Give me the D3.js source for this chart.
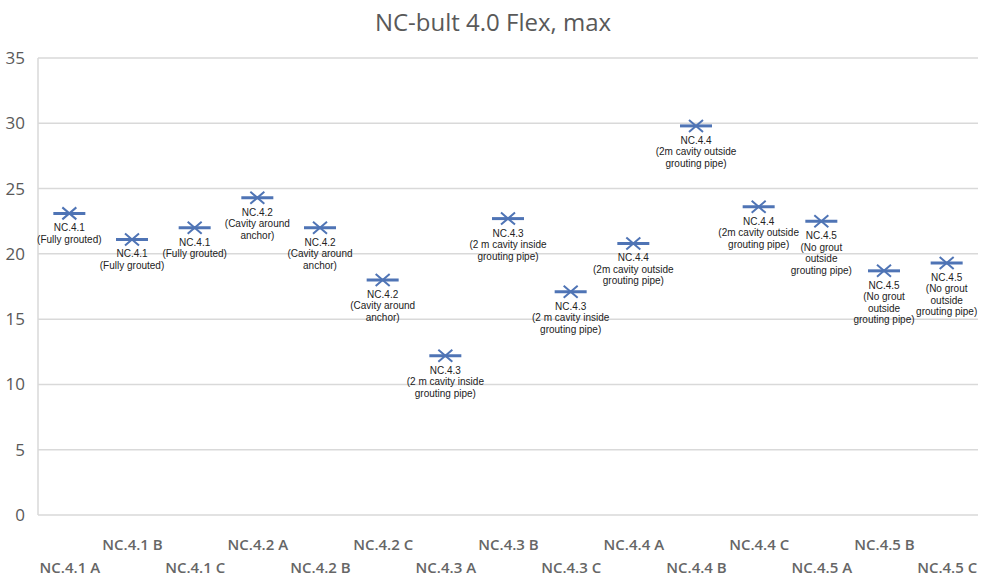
<!DOCTYPE html>
<html>
<head>
<meta charset="utf-8">
<script src="https://cdn.jsdelivr.net/npm/d3@7"></script>
<style>
  body { margin: 0; background: #fff; }
</style>
</head>
<body>
<script>
// categories along x
var categories = ["NC.4.1 A", "NC.4.1 B", "NC.4.1 C", "NC.4.2 A", "NC.4.2 B", "NC.4.2 C",
  "NC.4.3 A", "NC.4.3 B", "NC.4.3 C", "NC.4.4 A", "NC.4.4 B", "NC.4.4 C",
  "NC.4.5 A", "NC.4.5 B", "NC.4.5 C"];

// max flex values
var values = [23.1, 21.1, 22.0, 24.3, 22.0, 18.0, 12.2, 22.7, 17.1, 20.8, 29.8, 23.6, 22.5, 18.7, 19.3];

// data label text for each point
var pointLabels = [
  ["NC.4.1", "(Fully grouted)"],
  ["NC.4.1", "(Fully grouted)"],
  ["NC.4.1", "(Fully grouted)"],
  ["NC.4.2", "(Cavity around", "anchor)"],
  ["NC.4.2", "(Cavity around", "anchor)"],
  ["NC.4.2", "(Cavity around", "anchor)"],
  ["NC.4.3", "(2 m cavity inside", "grouting pipe)"],
  ["NC.4.3", "(2 m cavity inside", "grouting pipe)"],
  ["NC.4.3", "(2 m cavity inside", "grouting pipe)"],
  ["NC.4.4", "(2m cavity outside", "grouting pipe)"],
  ["NC.4.4", "(2m cavity outside", "grouting pipe)"],
  ["NC.4.4", "(2m cavity outside", "grouting pipe)"],
  ["NC.4.5", "(No grout", "outside", "grouting pipe)"],
  ["NC.4.5", "(No grout", "outside", "grouting pipe)"],
  ["NC.4.5", "(No grout", "outside", "grouting pipe)"]
];

var yTicks = [0, 5, 10, 15, 20, 25, 30, 35];
var title = "NC-bult 4.0 Flex, max";

var width = 987, height = 579;
var margin = {top: 58, right: 9, bottom: 64, left: 38};
var blue = "#4f74b5";

var svg = d3.select("body").append("svg")
  .attr("width", width)
  .attr("height", height);

var xScale = d3.scalePoint()
  .domain(categories)
  .range([margin.left, width - margin.right])
  .padding(0.5);

var yScale = d3.scaleLinear()
  .domain([0, 35])
  .range([height - margin.bottom, margin.top]);

// title
svg.append("text")
  .attr("x", 493)
  .attr("y", 31)
  .attr("text-anchor", "middle")
  .attr("font-family", "Open Sans")
  .attr("font-size", 24)
  .attr("fill", "#595959")
  .text(title);

// gridlines
svg.append("g").selectAll("line")
  .data(yTicks)
  .enter().append("line")
  .attr("x1", margin.left)
  .attr("x2", width - margin.right)
  .attr("y1", function(d) { return yScale(d); })
  .attr("y2", function(d) { return yScale(d); })
  .attr("stroke", "#d9d9d9")
  .attr("stroke-width", 1.5);

// left border
svg.append("line")
  .attr("x1", margin.left).attr("x2", margin.left)
  .attr("y1", yScale(35)).attr("y2", yScale(0))
  .attr("stroke", "#d9d9d9")
  .attr("stroke-width", 1.5);

// y axis labels
var yAxis = d3.axisLeft(yScale).tickValues(yTicks).tickSize(0).tickPadding(13);
var gy = svg.append("g")
  .attr("transform", "translate(" + margin.left + ",0)")
  .call(yAxis);
gy.select(".domain").remove();
gy.selectAll("text")
  .attr("font-family", "Open Sans")
  .attr("font-size", 17)
  .attr("fill", "#595959");

// x axis labels, alternating two rows
var xAxis = d3.axisBottom(xScale).tickSize(0);
var gx = svg.append("g")
  .attr("transform", "translate(0," + yScale(0) + ")")
  .call(xAxis);
gx.select(".domain").remove();
gx.selectAll("text")
  .attr("font-family", "Open Sans")
  .attr("font-size", 15)
  .attr("font-weight", 600)
  .attr("fill", "#666")
  .attr("dy", null)
  .attr("y", function(d, i) { return i % 2 === 1 ? 35 : 58; });

// markers
var pts = svg.append("g").selectAll("g")
  .data(values)
  .enter().append("g")
  .attr("transform", function(d, i) {
    return "translate(" + xScale(categories[i]) + "," + yScale(d) + ")";
  });

pts.append("line")
  .attr("x1", -16).attr("x2", 16)
  .attr("y1", 0).attr("y2", 0)
  .attr("stroke", blue)
  .attr("stroke-width", 3);

pts.append("path")
  .attr("d", "M-7,-6L7,6M-7,6L7,-6")
  .attr("stroke", blue)
  .attr("stroke-width", 2)
  .attr("fill", "none");

// data labels
pts.append("text")
  .attr("text-anchor", "middle")
  .attr("font-family", "Liberation Sans")
  .attr("font-size", 10)
  .attr("fill", "#222")
  .each(function(d, i) {
    var t = d3.select(this);
    pointLabels[i].forEach(function(line, j) {
      t.append("tspan")
        .attr("x", 0)
        .attr("y", 18 + j * 11.5)
        .text(line);
    });
  });
</script>
</body>
</html>
